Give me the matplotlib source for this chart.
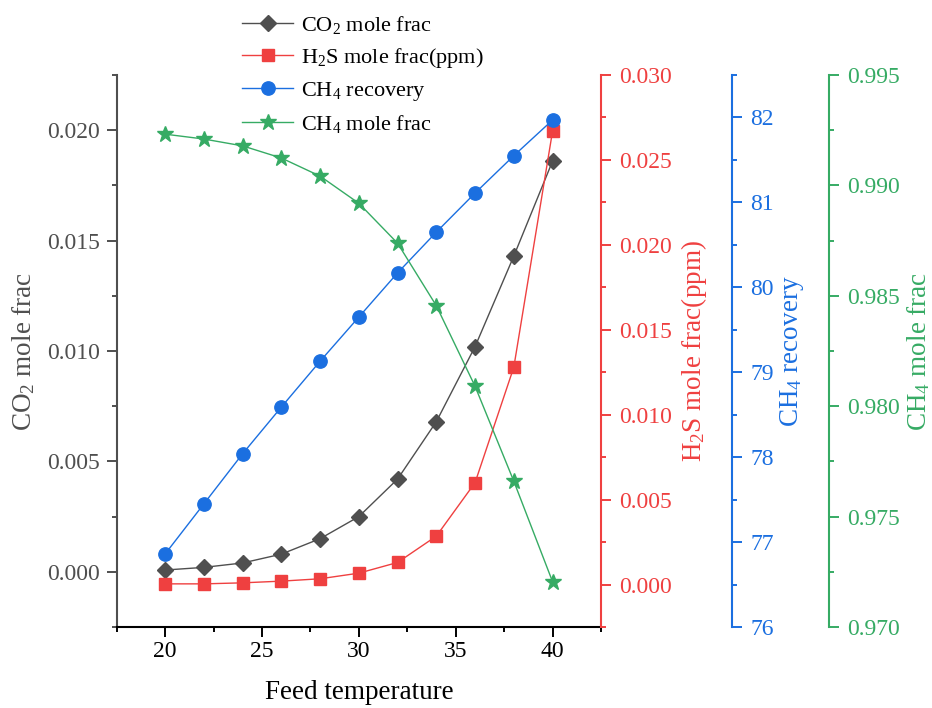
import matplotlib.pyplot as plt
from matplotlib.ticker import MultipleLocator, FormatStrFormatter

plt.rcParams['font.family'] = ['Liberation Serif', 'DejaVu Serif']
plt.rcParams['mathtext.fontset'] = 'custom'
plt.rcParams['mathtext.rm'] = 'Liberation Serif'
plt.rcParams['mathtext.it'] = 'Liberation Serif:italic'

# Feed temperature sweep
temperature = [20, 22, 24, 26, 28, 30, 32, 34, 36, 38, 40]

co2_frac = [0.00008, 0.0002, 0.0004, 0.0008, 0.0015, 0.0025,
            0.0042, 0.0068, 0.0102, 0.0143, 0.0186]
h2s_frac = [0.00004, 0.00004, 0.0001, 0.0002, 0.00034, 0.00067,
            0.0013, 0.00285, 0.0060, 0.0128, 0.0267]
ch4_recovery = [76.86, 77.45, 78.04, 78.59, 79.13, 79.65,
                80.17, 80.65, 81.11, 81.55, 81.97]
ch4_frac = [0.99232, 0.99210, 0.99179, 0.99124, 0.99042, 0.98919,
            0.98738, 0.98455, 0.98090, 0.97660, 0.97205]

gray = '#4f4f4f'
red = '#ef4040'
blue = '#1b6fe0'
green = '#36ab64'

W, H = 932, 708
fig = plt.figure(figsize=(W / 100, H / 100), dpi=100)
left, right, top, bottom = 116.7, 601, 75, 627
ax = fig.add_axes([left / W, 1 - bottom / H, (right - left) / W, (bottom - top) / H])

ax_h2s = ax.twinx()
ax_rec = ax.twinx()
ax_ch4 = ax.twinx()
ax_rec.spines['right'].set_position(('axes', 1.271))
ax_ch4.spines['right'].set_position(('axes', 1.471))

l1, = ax.plot(temperature, co2_frac, '-', color=gray, lw=1, marker='D', ms=7.8,
              label='CO$_2$ mole frac')
l2, = ax_h2s.plot(temperature, h2s_frac, '-', color=red, lw=1, marker='s', ms=8.6,
                  label='H$_2$S mole frac(ppm)')
l3, = ax_rec.plot(temperature, ch4_recovery, '-', color=blue, lw=1, marker='o', ms=9.6,
                  label='CH$_4$ recovery')
l4, = ax_ch4.plot(temperature, ch4_frac, '-', color=green, lw=1, marker='*', ms=12,
                  label='CH$_4$ mole frac')

ax.set_xlim(17.5, 42.5)
ax.set_ylim(-0.0025, 0.0225)
ax_h2s.set_ylim(-0.0025, 0.030)
ax_rec.set_ylim(76, 82.5)
ax_ch4.set_ylim(0.970, 0.995)

ax.xaxis.set_major_locator(MultipleLocator(5))
ax.xaxis.set_minor_locator(MultipleLocator(2.5))
ax.yaxis.set_major_locator(MultipleLocator(0.005))
ax.yaxis.set_minor_locator(MultipleLocator(0.0025))
ax.yaxis.set_major_formatter(FormatStrFormatter('%.3f'))
ax_h2s.yaxis.set_major_locator(MultipleLocator(0.005))
ax_h2s.yaxis.set_minor_locator(MultipleLocator(0.0025))
ax_h2s.yaxis.set_major_formatter(FormatStrFormatter('%.3f'))
ax_rec.yaxis.set_major_locator(MultipleLocator(1))
ax_rec.yaxis.set_minor_locator(MultipleLocator(0.5))
ax_ch4.yaxis.set_major_locator(MultipleLocator(0.005))
ax_ch4.yaxis.set_minor_locator(MultipleLocator(0.0025))
ax_ch4.yaxis.set_major_formatter(FormatStrFormatter('%.3f'))

# spines
ax.spines['top'].set_visible(False)
ax.spines['right'].set_visible(False)
ax.spines['left'].set_color(gray)
ax.spines['bottom'].set_color('black')
for a in (ax_h2s, ax_rec, ax_ch4):
    for s in ('top', 'left', 'bottom'):
        a.spines[s].set_visible(False)
for s in ax.spines.values():
    s.set_linewidth(1.5)

tick_fs = 17
ax.tick_params(axis='x', which='major', direction='out', length=7, width=1.4,
               colors='black', labelsize=tick_fs, pad=3)
ax.tick_params(axis='x', which='minor', direction='out', length=3.5, width=1.4,
               colors='black')
ax.tick_params(axis='y', which='major', direction='out', length=7, width=1.4,
               colors=gray, labelsize=tick_fs, pad=5)
ax.tick_params(axis='y', which='minor', direction='out', length=3.5, width=1.4,
               colors=gray)

for a, c in ((ax_h2s, red), (ax_rec, blue), (ax_ch4, green)):
    a.spines['right'].set_color(c)
    a.spines['right'].set_linewidth(1.5)
    a.tick_params(axis='y', which='major', direction='out', length=7, width=1.4,
                  colors=c, labelsize=tick_fs, pad=6)
    a.tick_params(axis='y', which='minor', direction='out', length=3.5, width=1.4,
                  colors=c)

ax.set_xlabel('Feed temperature', fontsize=19.5, color='black', labelpad=13)
ax.set_ylabel('CO$_2$ mole frac', fontsize=19.5, color=gray, labelpad=7)
ax_h2s.set_ylabel('H$_2$S mole frac(ppm)', fontsize=19.5, color=red, labelpad=5)
ax_rec.set_ylabel('CH$_4$ recovery', fontsize=19.5, color=blue, labelpad=3)
ax_ch4.set_ylabel('CH$_4$ mole frac', fontsize=19.5, color=green, labelpad=4)

fig.legend(handles=[l1, l2, l3, l4], loc='upper left',
           bbox_to_anchor=(222 / W, 1 + 6 / H), frameon=False, fontsize=16,
           handlelength=2.3, labelspacing=0.45, handletextpad=0.35)

fig.savefig('out.png', dpi=100)
